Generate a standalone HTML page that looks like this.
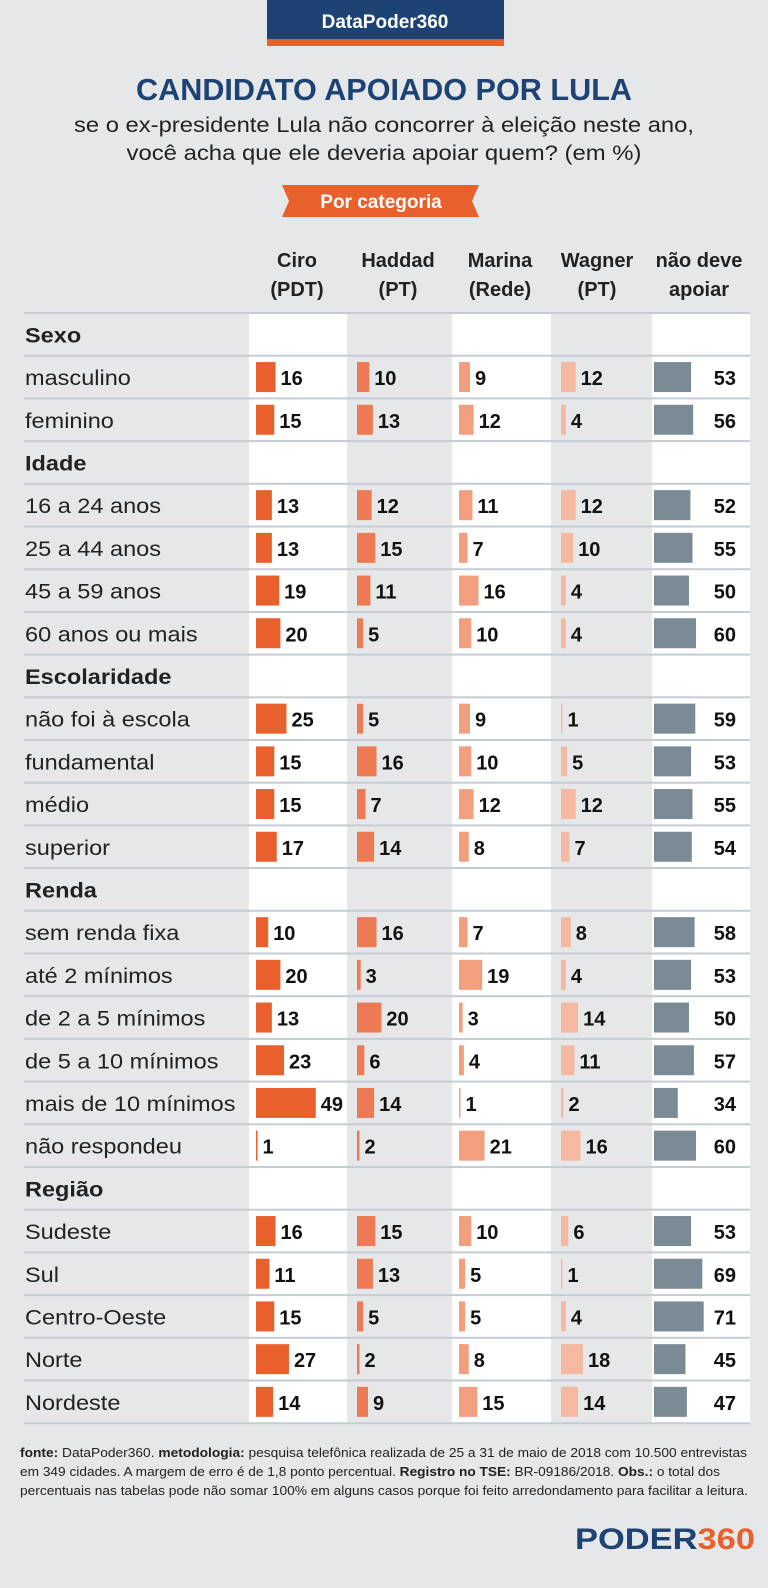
<!DOCTYPE html>
<html><head><meta charset="utf-8">
<style>
body{margin:0;background:#e6e7e9;font-family:"Liberation Sans",sans-serif;}
svg{display:block}
</style></head>
<body>
<svg id="chart" width="768" height="1588" viewBox="0 0 768 1588">
<rect x="0" y="0" width="768" height="1588" fill="#e6e7e9"/>
<rect x="267" y="0" width="237" height="39" fill="#1d4274"/>
<rect x="267" y="39" width="237" height="7" fill="#e8602c"/>
<text x="385" y="28" text-anchor="middle" fill="#fff" font-size="19" font-weight="bold">DataPoder360</text>
<text x="384" y="100" text-anchor="middle" fill="#1d4274" font-size="31" font-weight="bold" textLength="496" lengthAdjust="spacingAndGlyphs">CANDIDATO APOIADO POR LULA</text>
<text x="384" y="132" text-anchor="middle" fill="#222" font-size="21" textLength="620" lengthAdjust="spacingAndGlyphs">se o ex-presidente Lula não concorrer à eleição neste ano,</text>
<text x="384" y="160" text-anchor="middle" fill="#222" font-size="21" textLength="515" lengthAdjust="spacingAndGlyphs">você acha que ele deveria apoiar quem? (em %)</text>
<polygon points="282,185 479,185 472,201 479,217 282,217 289,201" fill="#e8602c"/>
<text x="381" y="208" text-anchor="middle" fill="#fff" font-size="19" font-weight="bold">Por categoria</text>
<g id="table"></g>
<g font-size="12.5" fill="#222">
<text x="20" y="1457" textLength="727" lengthAdjust="spacingAndGlyphs"><tspan font-weight="bold">fonte:</tspan> DataPoder360. <tspan font-weight="bold">metodologia:</tspan> pesquisa telefônica realizada de 25 a 31 de maio de 2018 com 10.500 entrevistas</text>
<text x="20" y="1476" textLength="700" lengthAdjust="spacingAndGlyphs">em 349 cidades. A margem de erro é de 1,8 ponto percentual. <tspan font-weight="bold">Registro no TSE:</tspan> BR-09186/2018. <tspan font-weight="bold">Obs.:</tspan> o total dos</text>
<text x="20" y="1495" textLength="728" lengthAdjust="spacingAndGlyphs">percentuais nas tabelas pode não somar 100% em alguns casos porque foi feito arredondamento para facilitar a leitura.</text>
</g>
<text x="575" y="1549" font-size="30" font-weight="bold" textLength="180" lengthAdjust="spacingAndGlyphs"><tspan fill="#1d4274">PODER</tspan><tspan fill="#e8602c">360</tspan></text>
</svg>
<script>
const columns=["Ciro (PDT)","Haddad (PT)","Marina (Rede)","Wagner (PT)","não deve apoiar"];
const colTop=["Ciro","Haddad","Marina","Wagner","não deve"];
const colBottom=["(PDT)","(PT)","(Rede)","(PT)","apoiar"];
const rowLabels=["Sexo","masculino","feminino","Idade","16 a 24 anos","25 a 44 anos","45 a 59 anos","60 anos ou mais","Escolaridade","não foi à escola","fundamental","médio","superior","Renda","sem renda fixa","até 2 mínimos","de 2 a 5 mínimos","de 5 a 10 mínimos","mais de 10 mínimos","não respondeu","Região","Sudeste","Sul","Centro-Oeste","Norte","Nordeste"];
const ciro=[null,16,15,null,13,13,19,20,null,25,15,15,17,null,10,20,13,23,49,1,null,16,11,15,27,14];
const haddad=[null,10,13,null,12,15,11,5,null,5,16,7,14,null,16,3,20,6,14,2,null,15,13,5,2,9];
const marina=[null,9,12,null,11,7,16,10,null,9,10,12,8,null,7,19,3,4,1,21,null,10,5,5,8,15];
const wagner=[null,12,4,null,12,10,4,4,null,1,5,12,7,null,8,4,14,11,2,16,null,6,1,4,18,14];
const naoDeve=[null,53,56,null,52,55,50,60,null,59,53,55,54,null,58,53,50,57,34,60,null,53,69,71,45,47];

const NS="http://www.w3.org/2000/svg";
const g=document.getElementById('table');
function mk(tag,attrs,parent){const e=document.createElementNS(NS,tag);for(const k in attrs)e.setAttribute(k,attrs[k]);(parent||g).appendChild(e);return e;}
const series=[ciro,haddad,marina,wagner,naoDeve];
const colX=[249,347,452,551,652];
const colW=[98,105,99,101,98];
const colBg=["#fff","#e6e7e9","#fff","#e6e7e9","#fff"];
const barX=[256,357,459,561,654];
const colors=["#e8602c","#ec7a52","#f29f80","#f5b8a0","#7b8b96"];
const scale=[1.22,1.22,1.22,1.22,0.7];
const headCx=[297,398,500,597,699];
const top0=313, rowH=42.7;
function yPos(i){return top0+i*rowH;}
for(let c=0;c<5;c++){
  const r=mk('rect',{x:colX[c],y:top0,width:colW[c],height:rowH*rowLabels.length,fill:colBg[c]});
  
  
  const t1=mk('text',{x:headCx[c],y:267,'text-anchor':'middle','font-size':20,'font-weight':'bold',fill:'#222'});
  t1.textContent=colTop[c];
  
  
  const t2=mk('text',{x:headCx[c],y:296,'text-anchor':'middle','font-size':20,'font-weight':'bold',fill:'#222'});
  t2.textContent=colBottom[c];
  
  
}
for(let i=0;i<=rowLabels.length;i++){
  const l=mk('rect',{x:24,y:yPos(i)-1,width:726,height:2,fill:'#c6ccd3'});
  
  
}
rowLabels.forEach((lab,i)=>{
  const cy=yPos(i)+rowH/2;
  const isHead=ciro[i]===null;
  const t=mk('text',{x:25,y:cy+8,'font-size':21,fill:'#222','font-weight':isHead?'bold':'normal'});
  t.textContent=lab;
  
  
  const len=t.getComputedTextLength();
  if(len>0){t.setAttribute('textLength',(len*1.12).toFixed(1));t.setAttribute('lengthAdjust','spacingAndGlyphs');}
  if(isHead)return;
  for(let c=0;c<5;c++){
    const v=series[c][i];
    const w=Math.max(1.5,v*scale[c]);
    const b=mk('rect',{x:barX[c],y:cy-15,width:w,height:30,fill:colors[c]});
    
    
    const attrs=c===4?{x:736,y:cy+8,'text-anchor':'end'}:{x:barX[c]+w+5,y:cy+8};
    attrs['font-size']=20;attrs['font-weight']='bold';attrs.fill='#111';
    const n=mk('text',attrs);
    n.textContent=v;
    
    
  }
});
</script>
</body></html>
